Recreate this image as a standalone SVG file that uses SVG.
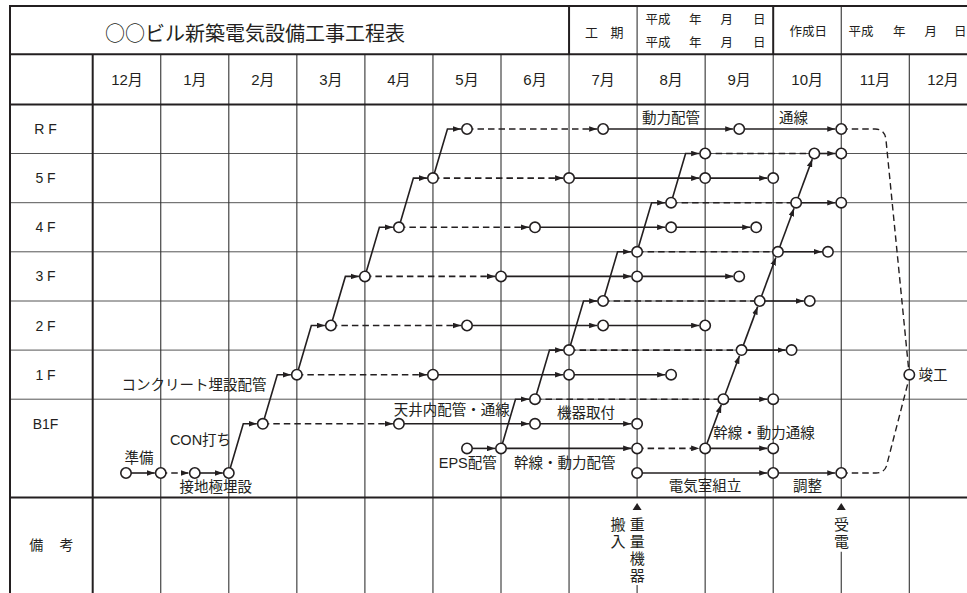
<svg xmlns="http://www.w3.org/2000/svg" width="967" height="593" viewBox="0 0 967 593">
<style>
.g{stroke:#555;stroke-width:1;fill:none}
.gv{stroke:#333;stroke-width:1.1;fill:none}
.tk{stroke:#231f20;stroke-width:2;fill:none}
.s{stroke:#231f20;stroke-width:1.6;fill:none}
.d{stroke-dasharray:6.5 4}
.a{marker-end:url(#ah)}
.n{fill:#fff;stroke:#231f20;stroke-width:1.6}
text{font-family:"Liberation Sans","Noto Sans CJK JP",sans-serif;fill:#231f20;dominant-baseline:central}
.t{font-size:14.5px;text-anchor:middle}
.m{font-size:15px;text-anchor:middle}
.h{font-size:12.5px}
.r{font-size:14px;text-anchor:middle}
.v{font-size:15px;text-anchor:middle}
</style>
<defs>
<marker id="ah" viewBox="0 0 8 6" markerWidth="8" markerHeight="6" refX="8" refY="3" orient="auto" markerUnits="userSpaceOnUse">
<path d="M0,0.2 L8,3 L0,5.8 Z" fill="#231f20"/>
</marker>
</defs>
<rect x="0" y="0" width="967" height="593" fill="#fff"/>
<g id="grid">
<line class="g" x1="10" y1="153.5" x2="967" y2="153.5"/>
<line class="g" x1="10" y1="202.7" x2="967" y2="202.7"/>
<line class="g" x1="10" y1="251.8" x2="967" y2="251.8"/>
<line class="g" x1="10" y1="301" x2="967" y2="301"/>
<line class="g" x1="10" y1="350.1" x2="967" y2="350.1"/>
<line class="g" x1="10" y1="399.2" x2="967" y2="399.2"/>
<line class="gv" x1="160.75" y1="54.3" x2="160.75" y2="593"/>
<line class="gv" x1="228.8" y1="54.3" x2="228.8" y2="593"/>
<line class="gv" x1="296.85" y1="54.3" x2="296.85" y2="593"/>
<line class="gv" x1="364.9" y1="54.3" x2="364.9" y2="593"/>
<line class="gv" x1="432.95" y1="54.3" x2="432.95" y2="593"/>
<line class="gv" x1="501" y1="54.3" x2="501" y2="593"/>
<line class="gv" x1="569.05" y1="54.3" x2="569.05" y2="593"/>
<line class="gv" x1="637.1" y1="6" x2="637.1" y2="497.5"/>
<line class="gv" x1="637.1" y1="585" x2="637.1" y2="593"/>
<line class="gv" x1="705.15" y1="54.3" x2="705.15" y2="593"/>
<line class="gv" x1="773.2" y1="54.3" x2="773.2" y2="593"/>
<line class="gv" x1="841.25" y1="6" x2="841.25" y2="497.5"/>
<line class="gv" x1="841.25" y1="551.7" x2="841.25" y2="593"/>
<line class="gv" x1="909.3" y1="54.3" x2="909.3" y2="593"/>
<line class="tk" x1="10" y1="6" x2="967" y2="6"/>
<line class="tk" x1="10" y1="54.3" x2="967" y2="54.3"/>
<line class="tk" x1="10" y1="104.4" x2="967" y2="104.4"/>
<line class="tk" x1="10" y1="497.5" x2="967" y2="497.5"/>
<line class="tk" x1="10" y1="5" x2="10" y2="593"/>
<line class="tk" x1="92.7" y1="54.3" x2="92.7" y2="593"/>
<line class="tk" x1="569.05" y1="6" x2="569.05" y2="54.3"/>
<line class="tk" x1="773.2" y1="6" x2="773.2" y2="54.3"/>
</g>
<g id="header">
<text x="255" y="32.3" style="font-size:20px;text-anchor:middle;font-family:'Noto Sans CJK JP',sans-serif">○○ビル新築電気設備工事工程表</text>
<text class="h" y="32.3" style="font-size:13px"><tspan x="585">工</tspan><tspan x="610.5">期</tspan></text>
<text class="h" y="19.5"><tspan x="645.5">平成</tspan><tspan x="689">年</tspan><tspan x="720.5">月</tspan><tspan x="753">日</tspan></text>
<text class="h" y="42.7"><tspan x="645.5">平成</tspan><tspan x="689">年</tspan><tspan x="720.5">月</tspan><tspan x="753">日</tspan></text>
<text class="h" x="789.5" y="32.3">作成日</text>
<text class="h" y="32.3"><tspan x="848.5">平成</tspan><tspan x="893">年</tspan><tspan x="924.5">月</tspan><tspan x="954">日</tspan></text>
<text class="m" x="127" y="79">12月</text>
<text class="m" x="194.8" y="79">1月</text>
<text class="m" x="262.8" y="79">2月</text>
<text class="m" x="330.9" y="79">3月</text>
<text class="m" x="398.9" y="79">4月</text>
<text class="m" x="467" y="79">5月</text>
<text class="m" x="535" y="79">6月</text>
<text class="m" x="603.1" y="79">7月</text>
<text class="m" x="671.1" y="79">8月</text>
<text class="m" x="739.2" y="79">9月</text>
<text class="m" x="807.2" y="79">10月</text>
<text class="m" x="875" y="79">11月</text>
<text class="m" x="943" y="79">12月</text>
<text class="r" x="45.5" y="129.3">R F</text>
<text class="r" x="45.5" y="178.1">5 F</text>
<text class="r" x="45.5" y="227.3">4 F</text>
<text class="r" x="45.5" y="276.4">3 F</text>
<text class="r" x="45.5" y="325.5">2 F</text>
<text class="r" x="45.5" y="374.7">1 F</text>
<text class="r" x="45.5" y="424.3">B1F</text>
<text y="545" style="font-size:14px"><tspan x="29.3">備</tspan><tspan x="59.5">考</tspan></text>
</g>
<g id="connectors">
<polyline class="s a" points="228.8,473 243.3,423.8 256.8,423.8"/>
<polyline class="s a" points="262.8,423.8 277.3,374.7 290.85,374.7"/>
<polyline class="s a" points="296.85,374.7 311.35,325.5 324.9,325.5"/>
<polyline class="s a" points="330.9,325.5 345.4,276.4 358.9,276.4"/>
<polyline class="s a" points="364.9,276.4 379.4,227.3 392.9,227.3"/>
<polyline class="s a" points="398.9,227.3 413.4,178.1 426.95,178.1"/>
<polyline class="s a" points="432.95,178.1 447.45,129 461,129"/>
<polyline class="s a" points="501,448.4 515.5,399.2 529,399.2"/>
<polyline class="s a" points="535,399.2 549.5,350.1 563.05,350.1"/>
<polyline class="s a" points="569.05,350.1 583.55,301 597.1,301"/>
<polyline class="s a" points="603.1,301 617.6,251.8 631.1,251.8"/>
<polyline class="s a" points="637.1,251.8 651.6,202.7 665.1,202.7"/>
<polyline class="s a" points="671.1,202.7 685.6,153.5 699.15,153.5"/>
<line class="s a" x1="705.15" y1="448.4" x2="721.27" y2="404.83"/>
<line class="s a" x1="723.35" y1="399.2" x2="739.47" y2="355.73"/>
<line class="s a" x1="741.55" y1="350.1" x2="757.67" y2="306.63"/>
<line class="s a" x1="759.75" y1="301" x2="775.87" y2="257.43"/>
<line class="s a" x1="777.95" y1="251.8" x2="794.07" y2="208.33"/>
<line class="s a" x1="796.15" y1="202.7" x2="812.27" y2="159.13"/>
<line class="s a" x1="126" y1="473" x2="154.75" y2="473"/>
<line class="s d a" x1="160.75" y1="473" x2="188.8" y2="473"/>
<line class="s a" x1="194.8" y1="473" x2="222.8" y2="473"/>
<line class="s a" x1="637.1" y1="473" x2="767.2" y2="473"/>
<line class="s a" x1="773.2" y1="473" x2="835.25" y2="473"/>
<line class="s a" x1="467" y1="448.4" x2="495" y2="448.4"/>
<line class="s a" x1="501" y1="448.4" x2="631.1" y2="448.4"/>
<line class="s d a" x1="637.1" y1="448.4" x2="699.15" y2="448.4"/>
<line class="s a" x1="705.15" y1="448.4" x2="767.2" y2="448.4"/>
<line class="s d a" x1="262.8" y1="423.8" x2="392.9" y2="423.8"/>
<line class="s a" x1="398.9" y1="423.8" x2="529" y2="423.8"/>
<line class="s a" x1="535" y1="423.8" x2="631.1" y2="423.8"/>
<line class="s d" x1="535" y1="399.2" x2="723.35" y2="399.2"/>
<line class="s a" x1="723.35" y1="399.2" x2="767.2" y2="399.2"/>
<line class="s d a" x1="296.85" y1="374.7" x2="426.95" y2="374.7"/>
<line class="s a" x1="432.95" y1="374.7" x2="563.05" y2="374.7"/>
<line class="s a" x1="569.05" y1="374.7" x2="665.1" y2="374.7"/>
<line class="s d" x1="569.05" y1="350.1" x2="741.55" y2="350.1"/>
<line class="s a" x1="741.55" y1="350.1" x2="785.55" y2="350.1"/>
<line class="s d a" x1="330.9" y1="325.5" x2="461" y2="325.5"/>
<line class="s a" x1="467" y1="325.5" x2="597.1" y2="325.5"/>
<line class="s a" x1="603.1" y1="325.5" x2="699.15" y2="325.5"/>
<line class="s d" x1="603.1" y1="301" x2="759.75" y2="301"/>
<line class="s a" x1="759.75" y1="301" x2="803.75" y2="301"/>
<line class="s d a" x1="364.9" y1="276.4" x2="495" y2="276.4"/>
<line class="s a" x1="501" y1="276.4" x2="631.1" y2="276.4"/>
<line class="s a" x1="637.1" y1="276.4" x2="733.2" y2="276.4"/>
<line class="s d" x1="637.1" y1="251.8" x2="777.95" y2="251.8"/>
<line class="s a" x1="777.95" y1="251.8" x2="821.95" y2="251.8"/>
<line class="s d a" x1="398.9" y1="227.3" x2="529" y2="227.3"/>
<line class="s a" x1="535" y1="227.3" x2="665.1" y2="227.3"/>
<line class="s a" x1="671.1" y1="227.3" x2="750.2" y2="227.3"/>
<line class="s d" x1="671.1" y1="202.7" x2="796.15" y2="202.7"/>
<line class="s a" x1="796.15" y1="202.7" x2="835.25" y2="202.7"/>
<line class="s d a" x1="432.95" y1="178.1" x2="563.05" y2="178.1"/>
<line class="s a" x1="569.05" y1="178.1" x2="699.15" y2="178.1"/>
<line class="s a" x1="705.15" y1="178.1" x2="767.2" y2="178.1"/>
<line class="s d" x1="705.15" y1="153.5" x2="814.35" y2="153.5"/>
<line class="s a" x1="814.35" y1="153.5" x2="835.25" y2="153.5"/>
<line class="s d a" x1="467" y1="129" x2="597.1" y2="129"/>
<line class="s a" x1="603.1" y1="129" x2="733.2" y2="129"/>
<line class="s a" x1="739.2" y1="129" x2="835.25" y2="129"/>
<path class="s d" style="stroke-width:1.4" d="M841.25,129 H875 Q885,129 886,140 L908.6,368.6"/>
<path class="s d" style="stroke-width:1.4" d="M841.25,473 H876 Q886,473 887.5,462 L908.5,380.8"/>
</g>
<g id="nodes">
<g id="n15a"><circle class="n" cx="126" cy="473" r="5.2"/></g>
<g id="n15b"><circle class="n" cx="160.75" cy="473" r="5.2"/></g>
<g id="n15c"><circle class="n" cx="194.8" cy="473" r="5.2"/></g>
<g id="n15d"><circle class="n" cx="228.8" cy="473" r="5.2"/></g>
<g id="n15e"><circle class="n" cx="637.1" cy="473" r="5.2"/></g>
<g id="n15f"><circle class="n" cx="773.2" cy="473" r="5.2"/></g>
<g id="n15g"><circle class="n" cx="841.25" cy="473" r="5.2"/></g>
<g id="n14a"><circle class="n" cx="467" cy="448.4" r="5.2"/></g>
<g id="n14b"><circle class="n" cx="501" cy="448.4" r="5.2"/></g>
<g id="n14c"><circle class="n" cx="637.1" cy="448.4" r="5.2"/></g>
<g id="n14d"><circle class="n" cx="705.15" cy="448.4" r="5.2"/></g>
<g id="n14e"><circle class="n" cx="773.2" cy="448.4" r="5.2"/></g>
<g id="n13a"><circle class="n" cx="262.8" cy="423.8" r="5.2"/></g>
<g id="n13b"><circle class="n" cx="398.9" cy="423.8" r="5.2"/></g>
<g id="n13c"><circle class="n" cx="535" cy="423.8" r="5.2"/></g>
<g id="n13d"><circle class="n" cx="637.1" cy="423.8" r="5.2"/></g>
<g id="n12a"><circle class="n" cx="535" cy="399.2" r="5.2"/></g>
<g id="n12b"><circle class="n" cx="723.35" cy="399.2" r="5.2"/></g>
<g id="n12c"><circle class="n" cx="773.2" cy="399.2" r="5.2"/></g>
<g id="n11a"><circle class="n" cx="296.85" cy="374.7" r="5.2"/></g>
<g id="n11b"><circle class="n" cx="432.95" cy="374.7" r="5.2"/></g>
<g id="n11c"><circle class="n" cx="569.05" cy="374.7" r="5.2"/></g>
<g id="n11d"><circle class="n" cx="671.1" cy="374.7" r="5.2"/></g>
<g id="n-done"><circle class="n" cx="909.3" cy="374.7" r="5.2"/></g>
<g id="n10a"><circle class="n" cx="569.05" cy="350.1" r="5.2"/></g>
<g id="n10b"><circle class="n" cx="741.55" cy="350.1" r="5.2"/></g>
<g id="n10c"><circle class="n" cx="791.55" cy="350.1" r="5.2"/></g>
<g id="n9a"><circle class="n" cx="330.9" cy="325.5" r="5.2"/></g>
<g id="n9b"><circle class="n" cx="467" cy="325.5" r="5.2"/></g>
<g id="n9c"><circle class="n" cx="603.1" cy="325.5" r="5.2"/></g>
<g id="n9d"><circle class="n" cx="705.15" cy="325.5" r="5.2"/></g>
<g id="n8a"><circle class="n" cx="603.1" cy="301" r="5.2"/></g>
<g id="n8b"><circle class="n" cx="759.75" cy="301" r="5.2"/></g>
<g id="n8c"><circle class="n" cx="809.75" cy="301" r="5.2"/></g>
<g id="n7a"><circle class="n" cx="364.9" cy="276.4" r="5.2"/></g>
<g id="n7b"><circle class="n" cx="501" cy="276.4" r="5.2"/></g>
<g id="n7c"><circle class="n" cx="637.1" cy="276.4" r="5.2"/></g>
<g id="n7d"><circle class="n" cx="739.2" cy="276.4" r="5.2"/></g>
<g id="n6a"><circle class="n" cx="637.1" cy="251.8" r="5.2"/></g>
<g id="n6b"><circle class="n" cx="777.95" cy="251.8" r="5.2"/></g>
<g id="n6c"><circle class="n" cx="827.95" cy="251.8" r="5.2"/></g>
<g id="n5a"><circle class="n" cx="398.9" cy="227.3" r="5.2"/></g>
<g id="n5b"><circle class="n" cx="535" cy="227.3" r="5.2"/></g>
<g id="n5c"><circle class="n" cx="671.1" cy="227.3" r="5.2"/></g>
<g id="n5d"><circle class="n" cx="756.2" cy="227.3" r="5.2"/></g>
<g id="n4a"><circle class="n" cx="671.1" cy="202.7" r="5.2"/></g>
<g id="n4b"><circle class="n" cx="796.15" cy="202.7" r="5.2"/></g>
<g id="n4c"><circle class="n" cx="841.25" cy="202.7" r="5.2"/></g>
<g id="n3a"><circle class="n" cx="432.95" cy="178.1" r="5.2"/></g>
<g id="n3b"><circle class="n" cx="569.05" cy="178.1" r="5.2"/></g>
<g id="n3c"><circle class="n" cx="705.15" cy="178.1" r="5.2"/></g>
<g id="n3d"><circle class="n" cx="773.2" cy="178.1" r="5.2"/></g>
<g id="n2a"><circle class="n" cx="705.15" cy="153.5" r="5.2"/></g>
<g id="n2b"><circle class="n" cx="814.35" cy="153.5" r="5.2"/></g>
<g id="n2c"><circle class="n" cx="841.25" cy="153.5" r="5.2"/></g>
<g id="n1a"><circle class="n" cx="467" cy="129" r="5.2"/></g>
<g id="n1b"><circle class="n" cx="603.1" cy="129" r="5.2"/></g>
<g id="n1c"><circle class="n" cx="739.2" cy="129" r="5.2"/></g>
<g id="n1d"><circle class="n" cx="841.25" cy="129" r="5.2"/></g>
</g>
<g id="labels">
<text class="t" x="671" y="118.3">動力配管</text>
<text class="t" x="793.5" y="118">通線</text>
<text class="t" x="194" y="385">コンクリート埋設配管</text>
<text class="t" x="451.7" y="410">天井内配管・通線</text>
<text class="t" x="586" y="413.3">機器取付</text>
<text class="t" x="467.8" y="463.3">EPS配管</text>
<text class="t" x="564.7" y="463.3">幹線・動力配管</text>
<text class="t" x="764" y="433.3">幹線・動力通線</text>
<text class="t" x="705" y="486">電気室組立</text>
<text class="t" x="807.5" y="486">調整</text>
<text class="t" x="139" y="458.3">準備</text>
<text class="t" x="200.5" y="440">CON打ち</text>
<text class="t" x="215.8" y="486.7">接地極埋設</text>
<text x="918.5" y="375" style="font-size:14.5px">竣工</text>
</g>
<g id="remarks">
<polygon points="637.1,503 641.6,510 632.6,510" fill="#231f20"/>
<text class="v"><tspan x="637.3" y="523.5">重</tspan><tspan x="637.3" y="540.5">量</tspan><tspan x="637.3" y="557.5">機</tspan><tspan x="637.3" y="574.5">器</tspan></text>
<text class="v"><tspan x="618" y="523.5">搬</tspan><tspan x="618" y="540.5">入</tspan></text>
<polygon points="841.25,503 845.75,510 836.75,510" fill="#231f20"/>
<text class="v"><tspan x="841.5" y="523.5">受</tspan><tspan x="841.5" y="540.5">電</tspan></text>
</g>
</svg>
